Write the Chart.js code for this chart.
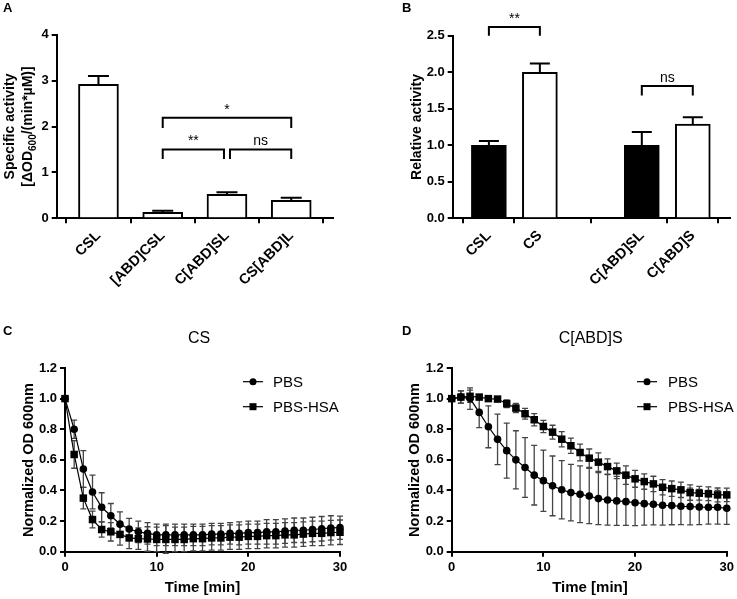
<!DOCTYPE html>
<html><head><meta charset="utf-8">
<script src="https://cdn.jsdelivr.net/npm/chart.js@4.4.1/dist/chart.umd.min.js"></script>
<style>
html,body{margin:0;padding:0;background:#fff;}
#wrap{position:relative;width:737px;height:599px;overflow:hidden;}
canvas{position:absolute;}
</style></head><body>
<div id="wrap">
<canvas id="cA" width="368" height="300" style="left:0;top:0"></canvas>
<canvas id="cB" width="369" height="300" style="left:368px;top:0"></canvas>
<canvas id="cC" width="368" height="299" style="left:0;top:300px"></canvas>
<canvas id="cD" width="369" height="299" style="left:368px;top:300px"></canvas>
</div>
<script>
// ---------------- DATA ----------------
// Panel A
const catsA = ['CSL', '[ABD]CSL', 'C[ABD]SL', 'CS[ABD]L'];
const meanA = [2.92, 0.13, 0.52, 0.39];
const sdA   = [0.18, 0.035, 0.05, 0.06];
const ticksA = [0, 1, 2, 3, 4];
const sigA = [
  {from: 1, to: 3, y: 2.19, leg: 1.97, label: '*'},
  {from: 1, to: 2, y: 1.50, leg: 1.29, label: '**'},
  {from: 2, to: 3, y: 1.50, leg: 1.29, label: 'ns'}
];
// Panel B
const catsB = ['CSL', 'CS', '', 'C[ABD]SL', 'C[ABD]S'];
const meanB = [1.0, 2.0, null, 1.0, 1.29];
const sdB   = [0.06, 0.12, null, 0.18, 0.095];
const ticksB = [0, 0.5, 1.0, 1.5, 2.0, 2.5];
const sigB = [
  {from: 0, to: 1, y: 2.62, leg: 2.5, label: '**'},
  {from: 3, to: 4, y: 1.81, leg: 1.68, label: 'ns'}
];
// Panels C / D (time in minutes)
const timeMin = [0,1,2,3,4,5,6,7,8,9,10,11,12,13,14,15,16,17,18,19,20,21,22,23,24,25,26,27,28,29,30];
const seriesNames = ['PBS', 'PBS-HSA'];
const pbsC   = [1.0,0.80,0.54,0.39,0.29,0.235,0.18,0.148,0.13,0.12,0.11,0.11,0.11,0.11,0.11,0.11,0.115,0.115,0.12,0.12,0.125,0.125,0.13,0.13,0.135,0.14,0.14,0.145,0.15,0.155,0.157];
const pbsSdC = [0,0.06,0.12,0.11,0.095,0.08,0.08,0.07,0.07,0.07,0.07,0.07,0.07,0.07,0.07,0.07,0.07,0.07,0.07,0.075,0.075,0.075,0.08,0.08,0.08,0.08,0.08,0.08,0.08,0.08,0.076];
const hsaC   = [1.0,0.635,0.35,0.21,0.145,0.13,0.113,0.09,0.085,0.083,0.08,0.08,0.08,0.08,0.085,0.085,0.09,0.09,0.095,0.095,0.1,0.1,0.105,0.105,0.11,0.11,0.115,0.12,0.12,0.125,0.127];
const hsaSdC = [0,0.09,0.07,0.055,0.05,0.06,0.07,0.07,0.07,0.08,0.08,0.09,0.08,0.08,0.08,0.08,0.08,0.08,0.08,0.08,0.08,0.08,0.08,0.08,0.08,0.08,0.08,0.08,0.08,0.08,0.08];
const pbsD   = [1.0,1.01,1.0,0.91,0.816,0.734,0.66,0.60,0.55,0.50,0.464,0.43,0.405,0.386,0.375,0.364,0.347,0.338,0.332,0.327,0.32,0.314,0.31,0.303,0.301,0.297,0.295,0.292,0.29,0.29,0.284];
const pbsSdD = [0,0.04,0.07,0.1,0.137,0.165,0.18,0.19,0.195,0.195,0.2,0.195,0.19,0.185,0.185,0.18,0.17,0.165,0.16,0.155,0.15,0.14,0.135,0.13,0.125,0.12,0.12,0.115,0.11,0.11,0.105];
const hsaD   = [1.0,1.01,1.015,1.01,1.0,0.997,0.967,0.938,0.901,0.862,0.818,0.781,0.735,0.692,0.648,0.611,0.585,0.556,0.528,0.50,0.476,0.458,0.443,0.421,0.412,0.404,0.386,0.382,0.378,0.371,0.371];
const hsaSdD = [0,0.04,0.04,0.012,0.012,0.012,0.025,0.03,0.035,0.04,0.04,0.045,0.05,0.05,0.055,0.06,0.06,0.05,0.05,0.06,0.055,0.05,0.05,0.05,0.05,0.05,0.05,0.045,0.045,0.045,0.044];
const ticksCD = [0, 0.2, 0.4, 0.6, 0.8, 1.0, 1.2];

// ---------------- STYLE ----------------
const FONT = '"Liberation Sans", Arial, Helvetica, sans-serif';
Chart.defaults.font.family = FONT;
Chart.defaults.color = '#000';
Chart.defaults.animation = false;
const fillB = ['#000', '#fff', '#fff', '#000', '#fff'];

// ---------------- PLUGINS ----------------
function drawRich(ctx, parts, x, y, align, baseFont, subFont) {
  let W = 0;
  parts.forEach(p => { ctx.font = p.sub ? subFont : baseFont; p.w = ctx.measureText(p.t).width; W += p.w; });
  let sx = align === 'center' ? x - W / 2 : (align === 'right' ? x - W : x);
  ctx.textAlign = 'left';
  parts.forEach(p => {
    ctx.font = p.sub ? subFont : baseFont;
    ctx.fillText(p.t, sx, y + (p.sub ? 4 : 0));
    sx += p.w;
  });
}
const textPlugin = {
  id: 'texts',
  afterDraw(chart, args, opts) {
    const ctx = chart.ctx;
    (opts.items || []).forEach(it => {
      ctx.save();
      ctx.fillStyle = '#000';
      ctx.textBaseline = 'alphabetic';
      const parts = it.parts || [{t: it.text}];
      if (it.rotate) {
        ctx.translate(it.x, it.y);
        ctx.rotate(-Math.PI / 2);
        drawRich(ctx, parts, 0, 0, 'center', it.font, it.subFont);
      } else {
        drawRich(ctx, parts, it.x, it.y, it.align || 'left', it.font, it.subFont);
      }
      ctx.restore();
    });
  }
};
function drawErrors(chart, opts) {
  const ys = chart.scales.y, ctx = chart.ctx;
  chart.data.datasets.forEach((ds, di) => {
    if (!ds.errors) return;
    const meta = chart.getDatasetMeta(di);
    meta.data.forEach((el, i) => {
      const e = ds.errors[i];
      if (!e) return;
      const raw = ds.data[i];
      const v = typeof raw === 'object' ? raw.y : raw;
      const x = el.x;
      const yTop = ys.getPixelForValue(v + e);
      const yBot = opts.mode === 'up' ? ys.getPixelForValue(v) : ys.getPixelForValue(v - e);
      ctx.save();
      ctx.strokeStyle = opts.color || '#000';
      ctx.lineWidth = opts.width || 1;
      ctx.beginPath();
      ctx.moveTo(x, yBot); ctx.lineTo(x, yTop);
      ctx.moveTo(x - opts.cap, yTop); ctx.lineTo(x + opts.cap, yTop);
      if (opts.mode !== 'up') { ctx.moveTo(x - opts.cap, yBot); ctx.lineTo(x + opts.cap, yBot); }
      ctx.stroke();
      ctx.restore();
    });
  });
}
const errPlugin = {
  id: 'errs',
  beforeDatasetsDraw(chart, args, opts) { if (opts.layer === 'below') drawErrors(chart, opts); },
  afterDatasetsDraw(chart, args, opts) { if (opts.layer !== 'below') drawErrors(chart, opts); }
};
const sigPlugin = {
  id: 'sig',
  afterDatasetsDraw(chart, args, opts) {
    const xs = chart.scales.x, ys = chart.scales.y, ctx = chart.ctx;
    (opts.items || []).forEach(b => {
      const x1 = xs.getPixelForValue(b.from) + (b.insetFrom || 0);
      const x2 = xs.getPixelForValue(b.to) - (b.insetTo || 0);
      const y = ys.getPixelForValue(b.y), yl = ys.getPixelForValue(b.leg);
      ctx.save();
      ctx.strokeStyle = '#000'; ctx.lineWidth = 2;
      ctx.beginPath();
      ctx.moveTo(x1, yl); ctx.lineTo(x1, y); ctx.lineTo(x2, y); ctx.lineTo(x2, yl);
      ctx.stroke();
      ctx.fillStyle = '#000';
      ctx.font = '14px ' + FONT; ctx.textAlign = 'center'; ctx.textBaseline = 'alphabetic';
      ctx.fillText(b.label, (x1 + x2) / 2, y - 4);
      ctx.restore();
    });
  }
};
const legendPlugin = {
  id: 'lineLegend',
  afterDraw(chart, args, opts) {
    const ctx = chart.ctx;
    chart.data.datasets.forEach((ds, i) => {
      const y = opts.y + i * opts.dy;
      ctx.save();
      ctx.strokeStyle = '#000'; ctx.lineWidth = 1.2;
      ctx.beginPath(); ctx.moveTo(opts.x1, y); ctx.lineTo(opts.x2, y); ctx.stroke();
      const cx = (opts.x1 + opts.x2) / 2;
      ctx.fillStyle = '#000';
      if (ds.pointStyle === 'rect') { ctx.fillRect(cx - 3.5, y - 3.5, 7, 7); }
      else { ctx.beginPath(); ctx.arc(cx, y, 3.5, 0, 2 * Math.PI); ctx.fill(); }
      ctx.font = '15px ' + FONT; ctx.textBaseline = 'alphabetic'; ctx.textAlign = 'left';
      ctx.fillText(ds.label, opts.tx, y + 5.4);
      ctx.restore();
    });
  }
};
Chart.register(textPlugin, errPlugin, sigPlugin, legendPlugin);

// ---------------- HELPERS ----------------
const tickFont = {size: 13, weight: 'bold'};
const catFont = {size: 14.5, weight: 'bold'};
function axisGrid() {
  return {display: true, drawOnChartArea: false, drawTicks: true, tickLength: 5, color: '#000', lineWidth: 2};
}
function yAxis(min, max, step, width, ticks, fmt) {
  return {
    min: min, max: max,
    afterBuildTicks(s) { s.ticks = ticks.map(v => ({value: v})); },
    ticks: {stepSize: step, font: tickFont, padding: 3, callback: fmt},
    grid: axisGrid(),
    border: {display: true, color: '#000', width: 2},
    afterFit(s) { s.width = width; }
  };
}
function catXAxis(cats, min, max, height) {
  const idx = cats.map((c, i) => i).filter(i => cats[i] !== '');
  return {
    type: 'linear', min: min, max: max, offset: false,
    afterBuildTicks(s) { s.ticks = idx.map(i => ({value: i})); },
    ticks: {autoSkip: false, maxRotation: 45, minRotation: 45, font: catFont, padding: 4,
            callback: v => cats[v]},
    grid: axisGrid(),
    border: {display: true, color: '#000', width: 2},
    afterFit(s) { s.height = height; }
  };
}
function timeXAxis(height) {
  return {
    type: 'linear', min: 0, max: 30,
    ticks: {stepSize: 10, font: tickFont, padding: 3, maxRotation: 0},
    grid: axisGrid(),
    border: {display: true, color: '#000', width: 2},
    afterFit(s) { s.height = height; }
  };
}
const bold14 = 'bold 14px ' + FONT;
const bold10 = 'bold 10px ' + FONT;
const bold13 = 'bold 13px ' + FONT;

// ---------------- PANEL A ----------------
new Chart(document.getElementById('cA'), {
  type: 'bar',
  data: {
    datasets: [{
      data: meanA.map((v, i) => ({x: i, y: v})),
      errors: sdA,
      backgroundColor: '#fff', borderColor: '#000', borderWidth: 2,
      barThickness: 40
    }]
  },
  options: {
    responsive: false,
    layout: {padding: {left: 0, top: 34.7, right: 35, bottom: 0}},
    plugins: {
      legend: {display: false}, tooltip: {enabled: false},
      errs: {mode: 'up', color: '#000', width: 2, cap: 10.5},
      sig: {items: sigA.map((b, i) => Object.assign({}, b, i === 1 ? {insetTo: 3} : (i === 2 ? {insetFrom: 3} : {})))},
      texts: {items: [
        {text: 'A', x: 3, y: 12, font: bold13},
        {text: 'Specific activity', x: 13.5, y: 126.5, rotate: true, font: bold14},
        {parts: [{t: '[\u0394OD'}, {t: '600', sub: true}, {t: '/(min*\u00B5M)]'}], x: 31.5, y: 126.5, rotate: true, font: bold14, subFont: bold10}
      ]}
    },
    scales: {
      x: catXAxis(catsA, -0.65, 3.65, 81.7),
      y: yAxis(0, 4, 1, 56.7, ticksA, v => String(v))
    }
  }
});

// ---------------- PANEL B ----------------
const keepB = catsB.map((c, i) => i).filter(i => meanB[i] !== null);
new Chart(document.getElementById('cB'), {
  type: 'bar',
  data: {
    datasets: [{
      data: keepB.map(i => ({x: i, y: meanB[i]})),
      errors: keepB.map(i => sdB[i]),
      backgroundColor: keepB.map(i => fillB[i]), borderColor: '#000', borderWidth: 2,
      barThickness: 35
    }]
  },
  options: {
    responsive: false,
    layout: {padding: {left: 0, top: 35.7, right: 7, bottom: 0}},
    plugins: {
      legend: {display: false}, tooltip: {enabled: false},
      errs: {mode: 'up', color: '#000', width: 2, cap: 10},
      sig: {items: sigB},
      texts: {items: [
        {text: 'B', x: 34, y: 12, font: bold13},
        {text: 'Relative activity', x: 52.5, y: 127, rotate: true, font: bold14}
      ]}
    },
    scales: {
      x: catXAxis(catsB, -0.71, 4.73, 81.7),
      y: yAxis(0, 2.5, 0.5, 84.7, ticksB, v => v.toFixed(1))
    }
  }
});

// ---------------- PANELS C / D ----------------
function lineSet(label, vals, sds, style) {
  return {
    label: label,
    data: timeMin.map((t, i) => ({x: t, y: vals[i]})),
    errors: sds,
    borderColor: '#000', backgroundColor: '#000', borderWidth: 1.2,
    pointStyle: style, pointRadius: style === 'rect' ? 5.3 : 3.8, pointBorderWidth: 0,
    tension: 0, clip: false
  };
}
function timeChart(id, title, pbs, pbsSd, hsa, hsaSd, yW, padRight, letterX, titleX, yTitleX, xTitleX, leg) {
  new Chart(document.getElementById(id), {
    type: 'line',
    data: {datasets: [lineSet(seriesNames[0], pbs, pbsSd, 'circle'), lineSet(seriesNames[1], hsa, hsaSd, 'rect')]},
    options: {
      responsive: false,
      layout: {padding: {left: 0, top: 68, right: padRight, bottom: 0}},
      plugins: {
        legend: {display: false}, tooltip: {enabled: false},
        errs: {mode: 'both', color: '#444', width: 1.3, cap: 3, layer: 'below'},
        lineLegend: leg,
        texts: {items: [
          {text: id === 'cC' ? 'C' : 'D', x: letterX, y: 35, font: bold13},
          {text: title, x: titleX, y: 43, align: 'center', font: '16px ' + FONT},
          {text: 'Normalized OD 600nm', x: yTitleX, y: 160, rotate: true, font: 'bold 14.5px ' + FONT},
          {text: 'Time [min]', x: xTitleX, y: 292, align: 'center', font: 'bold 15px ' + FONT}
        ]}
      },
      scales: {
        x: timeXAxis(47.3),
        y: yAxis(0, 1.2, 0.2, yW, ticksCD, v => v.toFixed(1))
      }
    }
  });
}
timeChart('cC', 'CS', pbsC, pbsSdC, hsaC, hsaSdC, 65, 28, 3, 199, 32.5, 202.5,
  {x1: 243, x2: 263, tx: 273, y: 81.7, dy: 25});
timeChart('cD', 'C[ABD]S', pbsD, pbsSdD, hsaD, hsaSdD, 83.7, 8.7, 34, 222.7, 51.3, 222,
  {x1: 269, x2: 289, tx: 300, y: 81.7, dy: 25});
</script>
</body></html>
